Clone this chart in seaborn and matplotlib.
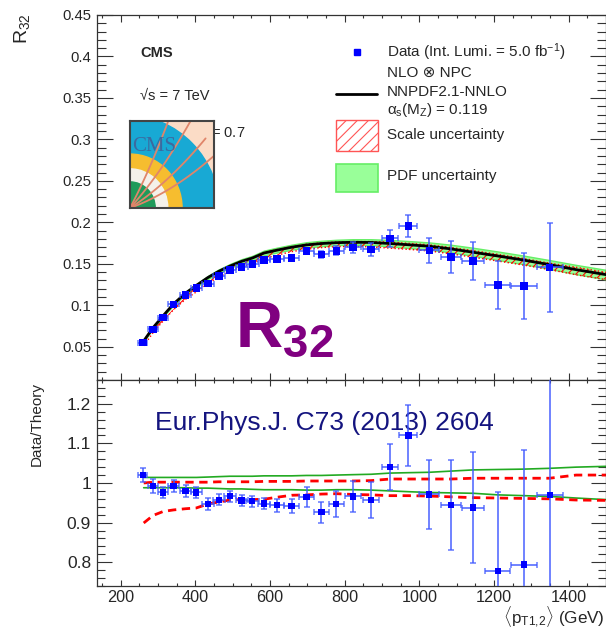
import numpy as np
import matplotlib
matplotlib.use("Agg")
import matplotlib.pyplot as plt
from matplotlib.patches import Rectangle, Wedge
from matplotlib.ticker import MultipleLocator, FuncFormatter
import seaborn as sns

# data points (mean pT of the bin, R32, errors)
x_data = [260, 287, 314, 342, 374, 403, 434, 463, 493, 524, 553, 584, 619, 658,
          698, 738, 778, 822, 871, 922, 971, 1027, 1085, 1144, 1210, 1280, 1349]
x_halfwidth = [12, 13, 13, 14, 15, 15, 16, 16, 16, 16, 17, 17, 18, 20,
               20, 20, 20, 22, 22, 22, 24, 27, 28, 30, 33, 35, 35]
r32 = [0.055, 0.071, 0.0853, 0.101, 0.1123, 0.121, 0.1263, 0.1355, 0.1424, 0.1464,
       0.1496, 0.1545, 0.156, 0.1572, 0.1657, 0.1613, 0.1657, 0.1698, 0.1674, 0.1806,
       0.1955, 0.1662, 0.1585, 0.1536, 0.1243, 0.1235, 0.1456]
r32_err = [0.0012, 0.0013, 0.0014, 0.0015, 0.0017, 0.0018, 0.0019, 0.0019, 0.002, 0.002,
           0.0021, 0.0022, 0.0025, 0.0028, 0.004, 0.0045, 0.0055, 0.0065, 0.008, 0.0098,
           0.0135, 0.015, 0.019, 0.0227, 0.0286, 0.04, 0.054]
ratio = [1.020, 0.993, 0.976, 0.993, 0.979, 0.976, 0.946, 0.958, 0.967, 0.956,
         0.954, 0.948, 0.944, 0.942, 0.964, 0.926, 0.947, 0.966, 0.957, 1.041,
         1.120, 0.971, 0.944, 0.938, 0.777, 0.794, 0.970]
ratio_err = [0.018, 0.018, 0.015, 0.015, 0.015, 0.015, 0.015, 0.014, 0.014, 0.014,
             0.014, 0.014, 0.016, 0.018, 0.025, 0.027, 0.032, 0.038, 0.045, 0.058,
             0.077, 0.087, 0.114, 0.14, 0.2, 0.29, 0.36]

# theory: NLO x NPC (NNPDF2.1-NNLO) and uncertainty ratios
x_th = [262, 287, 314, 342, 374, 403, 434, 463, 493, 524, 553, 584, 619, 658, 698,
        738, 778, 822, 871, 922, 971, 1027, 1085, 1144, 1210, 1280, 1349, 1420, 1500]
theory = [0.057, 0.073, 0.0874, 0.1017, 0.1147, 0.124, 0.1335, 0.141, 0.1473, 0.153,
          0.157, 0.163, 0.1665, 0.170, 0.1728, 0.1745, 0.1755, 0.176, 0.1758, 0.1745,
          0.173, 0.1712, 0.168, 0.164, 0.1595, 0.1545, 0.149, 0.143, 0.137]
scale_hi = [1.000, 1.002, 1.002, 1.002, 1.002, 1.002, 1.002, 1.003, 1.003, 1.003,
            1.003, 1.004, 1.004, 1.004, 1.005, 1.005, 1.005, 1.005, 1.006, 1.010,
            1.010, 1.010, 1.010, 1.012, 1.012, 1.012, 1.012, 1.020, 1.020]
scale_lo = [0.899, 0.918, 0.928, 0.932, 0.935, 0.937, 0.947, 0.952, 0.957, 0.958,
            0.958, 0.959, 0.964, 0.969, 0.970, 0.972, 0.973, 0.971, 0.970, 0.968,
            0.968, 0.967, 0.965, 0.963, 0.962, 0.961, 0.960, 0.957, 0.956]
pdf_hi = [1.014, 1.014, 1.014, 1.014, 1.014, 1.014, 1.015, 1.016, 1.017, 1.017,
          1.017, 1.018, 1.018, 1.018, 1.019, 1.019, 1.020, 1.021, 1.022, 1.025,
          1.026, 1.027, 1.030, 1.033, 1.034, 1.035, 1.037, 1.040, 1.042]
pdf_lo = [0.988, 0.988, 0.988, 0.988, 0.988, 0.987, 0.987, 0.986, 0.985, 0.985,
          0.984, 0.983, 0.983, 0.983, 0.982, 0.982, 0.983, 0.983, 0.982, 0.980,
          0.978, 0.976, 0.975, 0.974, 0.970, 0.968, 0.966, 0.962, 0.958]

sns.set_style("ticks")
plt.rcParams['font.family'] = ['Liberation Sans', 'DejaVu Sans']
plt.rcParams['mathtext.fontset'] = 'custom'
plt.rcParams['mathtext.rm'] = 'Liberation Sans'
plt.rcParams['mathtext.it'] = 'Liberation Sans'
plt.rcParams['mathtext.bf'] = 'Liberation Sans:bold'
plt.rcParams['hatch.linewidth'] = 0.8
plt.rcParams['axes.edgecolor'] = '#333333'
plt.rcParams['axes.linewidth'] = 0.9

fig = plt.figure(figsize=(6.06, 6.35), dpi=100)
ax1 = fig.add_axes([0.1601, 0.4016, 0.8399, 0.5748])
ax2 = fig.add_axes([0.1601, 0.0772, 0.8399, 0.3244], sharex=ax1)

th = np.array(theory)
blue_err = (0.25, 0.35, 1.0, 0.75)

# ---- top panel
ax1.fill_between(x_th, th * np.array(pdf_lo), th * np.array(pdf_hi),
                 facecolor='#99ff99', edgecolor='#66ee66', lw=1, zorder=1)
ax1.fill_between(x_th, th * np.array(scale_lo), th * np.array(scale_hi),
                 facecolor='none', edgecolor='red', hatch='////', lw=0, zorder=2)
ax1.plot(x_th, th * np.array(scale_lo), color='red', ls=':', lw=1, zorder=2)
ax1.plot(x_th, th * np.array(scale_hi), color='red', ls=':', lw=1, zorder=2)
sns.lineplot(x=x_th, y=theory, ax=ax1, color='black', lw=2, estimator=None, zorder=4)
ax1.errorbar(x_data, r32, xerr=x_halfwidth, yerr=r32_err, fmt='none', ecolor=blue_err,
             elinewidth=1.4, capsize=2, capthick=1.2, zorder=5)
sns.scatterplot(x=x_data, y=r32, ax=ax1, marker='s', color='#0000ff', s=30,
                edgecolor='none', zorder=6)

ax1.set_xlim(137, 1500)
ax1.set_ylim(0.01, 0.45)
ax1.yaxis.set_major_locator(MultipleLocator(0.05))
ax1.yaxis.set_minor_locator(MultipleLocator(0.01))
ax1.set_xlabel('')
ax1.set_ylabel('')

# legend, drawn by hand like the ROOT one
leg_fs = 11
ax1.plot([0.511], [0.899], 's', color='#0000ff', ms=4, transform=ax1.transAxes)
ax1.text(0.570, 0.899, 'Data (Int. Lumi. = 5.0 fb$^{-1}$)', transform=ax1.transAxes,
         va='center', fontsize=leg_fs)
ax1.text(0.570, 0.841, 'NLO ⊗ NPC', transform=ax1.transAxes, va='center', fontsize=leg_fs)
ax1.text(0.570, 0.789, 'NNPDF2.1-NNLO', transform=ax1.transAxes, va='center', fontsize=leg_fs)
ax1.text(0.570, 0.740, r'$\alpha_s$(M$_Z$) = 0.119', transform=ax1.transAxes,
         va='center', fontsize=leg_fs)
ax1.plot([0.470, 0.550], [0.784, 0.784], color='black', lw=2, transform=ax1.transAxes)
ax1.add_patch(Rectangle((0.470, 0.627), 0.082, 0.085, transform=ax1.transAxes,
                        facecolor='white', edgecolor='#ff5555', hatch='///', lw=1))
ax1.text(0.570, 0.671, 'Scale uncertainty', transform=ax1.transAxes, va='center',
         fontsize=leg_fs)
ax1.add_patch(Rectangle((0.470, 0.515), 0.082, 0.077, transform=ax1.transAxes,
                        facecolor='#99ff99', edgecolor='#66ee66', lw=1.2))
ax1.text(0.570, 0.559, 'PDF uncertainty', transform=ax1.transAxes, va='center',
         fontsize=leg_fs)

ax1.text(0.0845, 0.896, 'CMS', transform=ax1.transAxes, va='center',
         fontsize=10.5, fontweight='bold')
ax1.text(0.0845, 0.778, '√s = 7 TeV', transform=ax1.transAxes, va='center', fontsize=10.5)
ax1.text(0.291, 0.677, 'anti-k$_T$ R = 0.7', transform=ax1.transAxes, ha='right',
         va='center', fontsize=10.5)
ax1.text(0.271, 0.0904, r'$\mathbf{R_{32}}$', transform=ax1.transAxes, color='#800080',
         fontsize=47, ha='left', va='baseline')

# ---- ratio panel
sns.lineplot(x=x_th, y=pdf_hi, ax=ax2, color='#22aa22', lw=1.2, estimator=None)
sns.lineplot(x=x_th, y=pdf_lo, ax=ax2, color='#22aa22', lw=1.2, estimator=None)
ax2.plot(x_th, scale_hi, color='red', lw=2, dashes=(3, 2))
ax2.plot(x_th, scale_lo, color='red', lw=2, dashes=(3, 2))
ax2.errorbar(x_data, ratio, xerr=x_halfwidth, yerr=ratio_err, fmt='none', ecolor=blue_err,
             elinewidth=1.4, capsize=2, capthick=1.2, zorder=5)
sns.scatterplot(x=x_data, y=ratio, ax=ax2, marker='s', color='#0000ff', s=20,
                edgecolor='none', zorder=6)

ax2.set_ylim(0.74, 1.26)
ax2.yaxis.set_major_locator(MultipleLocator(0.1))
ax2.yaxis.set_minor_locator(MultipleLocator(0.02))
ax2.xaxis.set_major_locator(MultipleLocator(200))
ax2.xaxis.set_minor_locator(MultipleLocator(50))
ax2.set_xlabel('')
ax2.set_ylabel('')
ax2.text(0.114, 0.757, 'Eur.Phys.J. C73 (2013) 2604', transform=ax2.transAxes,
         color='#14147f', fontsize=19, va='baseline')

fmt = FuncFormatter(lambda v, p: '%g' % round(v, 4))
for ax in (ax1, ax2):
    ax.yaxis.set_major_formatter(fmt)
    ax.tick_params(which='both', direction='in', top=True, right=True,
                   color='#333333', width=0.8)

ax1.tick_params(axis='y', which='major', length=11.5, labelsize=10.7, pad=4.3)
ax1.tick_params(axis='y', which='minor', length=6.5)
ax1.tick_params(axis='x', which='major', length=5, labelbottom=False)
ax1.tick_params(axis='x', which='minor', length=2.5)
ax2.tick_params(axis='y', which='major', length=10.8, labelsize=12.5, pad=4.3)
ax2.tick_params(axis='y', which='minor', length=5.5)
ax2.tick_params(axis='x', which='major', length=4.3, labelsize=11.7, pad=3)
ax2.tick_params(axis='x', which='minor', length=2.2)

# axis titles, ROOT style (top/right aligned)
fig.text(22 / 606, 1 - 13 / 635, 'R$_{32}$', rotation=90, ha='center', va='top', fontsize=14)
fig.text(37 / 606, 1 - 382 / 635, 'Data/Theory', rotation=90, ha='center', va='top',
         fontsize=11)
fig.text(0.998, 1 - 624 / 635, r'$\langle$p$_{T1{,}2}\rangle$ (GeV)', ha='right',
         va='baseline', fontsize=12.3)

# CMS logo over the jet-algorithm line
lax = fig.add_axes([130 / 606, 1 - 208 / 635, 84 / 606, 87 / 635])
lax.set_xlim(0, 1)
lax.set_ylim(0, 1)
lax.add_patch(Rectangle((0, 0), 1, 1, color='#fbdcc6'))
lax.add_patch(Wedge((-0.05, -0.05), 1.12, 0, 90, color='#18a9d4'))
lax.add_patch(Wedge((0, 0), 0.62, 0, 90, color='#f6bd2f'))
lax.add_patch(Wedge((0, 0), 0.45, 0, 90, color='#f4f1ea'))
lax.add_patch(Wedge((0, 0), 0.3, 0, 90, color='#1f9a5a'))
t = np.linspace(0, 1, 30)
for a, b in [(1.0, 0.35), (0.9, 0.55), (0.75, 0.8), (0.55, 1.0)]:
    lax.plot(a * t, b * t + 0.25 * t ** 2, color='#e0856a', lw=1.3)
lax.text(0.03, 0.66, 'CMS', family=['Liberation Serif', 'DejaVu Serif'],
         color='#3b6aa0', fontsize=15)
lax.set_xticks([])
lax.set_yticks([])
for s in lax.spines.values():
    s.set_color('#444444')
    s.set_linewidth(1.5)

fig.savefig('out.png', dpi=100)
